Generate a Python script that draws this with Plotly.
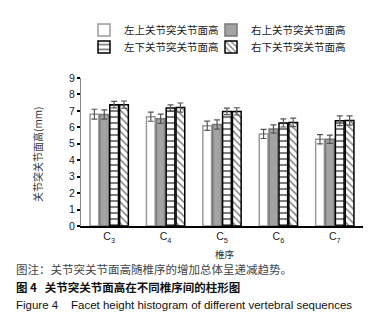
import plotly.graph_objects as go

categories = ["C<sub>3</sub>", "C<sub>4</sub>", "C<sub>5</sub>", "C<sub>6</sub>", "C<sub>7</sub>"]
series_names = ["左上关节突关节面高", "右上关节突关节面高", "左下关节突关节面高", "右下关节突关节面高"]
upper_left = [6.80, 6.65, 6.10, 5.60, 5.28]
upper_right = [6.78, 6.52, 6.17, 5.90, 5.28]
lower_left = [7.38, 7.17, 6.97, 6.27, 6.40]
lower_right = [7.38, 7.20, 6.97, 6.30, 6.42]
err_upper_left = [0.30, 0.28, 0.28, 0.28, 0.28]
err_upper_right = [0.28, 0.28, 0.28, 0.25, 0.25]
err_lower_left = [0.20, 0.20, 0.20, 0.25, 0.30]
err_lower_right = [0.22, 0.28, 0.22, 0.26, 0.28]
y_ticks = [0, 1, 2, 3, 4, 5, 6, 7, 8, 9]

values = [upper_left, upper_right, lower_left, lower_right]
errors = [err_upper_left, err_upper_right, err_lower_left, err_lower_right]
legend_ids = ["legend", "legend2", "legend3", "legend4"]

styles = [
    dict(color="white", line=dict(color="#9a9a9a", width=1.5)),
    dict(color="#a3a3a3", line=dict(color="#777777", width=1.5)),
    dict(color="white", line=dict(color="black", width=1.5),
         pattern=dict(shape="-", fgcolor="black", bgcolor="white", size=6, solidity=0.35)),
    dict(color="white", line=dict(color="black", width=1.5),
         pattern=dict(shape="\\", fgcolor="black", bgcolor="white", size=5, solidity=0.3)),
]

fig = go.Figure()
for name, vals, errs, st, lg in zip(series_names, values, errors, styles, legend_ids):
    fig.add_trace(go.Bar(
        x=categories, y=vals, name=name, marker=st, legend=lg,
        error_y=dict(type="data", array=errs, color="#555555", thickness=1.2, width=3),
    ))

OFF = 8  # page body margin
W, H = 391 - OFF, 336 - OFF
# target plot area in page pixels
PL, PR, PT, PB = 81, 363, 78, 226
L, T = PL - OFF, PT - OFF
R = W - (PR - OFF)
B = H - (PB - OFF)
pw, ph = PR - PL, PB - PT

def px_x(p):
    return (p - PL) / pw

def px_y(p):
    return (PB - p) / ph

legend_common = dict(
    orientation="h", xanchor="left", yanchor="middle",
    font=dict(family="Noto Sans CJK SC", size=10.5, color="#222222"),
    itemwidth=30, bgcolor="rgba(0,0,0,0)",
)

fig.update_layout(
    width=W, height=H,
    margin=dict(l=L, r=R, t=T, b=B, pad=0, autoexpand=False),
    paper_bgcolor="white", plot_bgcolor="white",
    barmode="group", bargap=0.3, bargroupgap=0.12,
    font=dict(family="Liberation Sans, Noto Sans CJK SC", size=10, color="black"),
    showlegend=True,
    legend=dict(x=px_x(84), y=px_y(30), **legend_common),
    legend2=dict(x=px_x(211), y=px_y(30), **legend_common),
    legend3=dict(x=px_x(84), y=px_y(47), **legend_common),
    legend4=dict(x=px_x(211), y=px_y(47), **legend_common),
)

fig.update_xaxes(
    showline=True, linecolor="black", linewidth=1.5, ticks="", showgrid=False,
    tickfont=dict(family="Liberation Sans", size=10.5, color="#222222"),
    range=[-0.5, 4.5],
)
fig.update_yaxes(
    range=[0, 9], tickvals=y_ticks, showline=True, linecolor="#888888", linewidth=1,
    ticks="outside", ticklen=3, tickwidth=2, tickcolor="black", showgrid=False, zeroline=False,
    tickfont=dict(family="Liberation Sans", size=10.5, color="#222222"),
)

ann = [
    dict(text="关节突关节面高(mm)", x=px_x(37), y=px_y(155), textangle=-90,
         font=dict(family="Noto Sans CJK SC", size=10, color="#333333")),
    dict(text="椎序", x=px_x(225), y=px_y(254),
         font=dict(family="Noto Sans CJK SC", size=9.5, color="#333333")),
    dict(text="图注：关节突关节面高随椎序的增加总体呈递减趋势。", x=px_x(14), y=px_y(269), xanchor="left",
         font=dict(family="Noto Sans CJK SC", size=11.5, color="#444444")),
    dict(text="<b>图 4  </b> <b>关节突关节面高在不同椎序间的柱形图</b>", x=px_x(14), y=px_y(287), xanchor="left",
         font=dict(family="Noto Sans CJK SC", size=11.5, color="#111111")),
    dict(text="Figure 4    Facet height histogram of different vertebral sequences", x=px_x(14), y=px_y(305),
         xanchor="left", font=dict(family="Liberation Sans", size=11.5, color="#111111")),
]
for a in ann:
    a.setdefault("xanchor", "center")
    fig.add_annotation(xref="paper", yref="paper", showarrow=False, yanchor="middle", **a)

fig.write_html("out.html")
